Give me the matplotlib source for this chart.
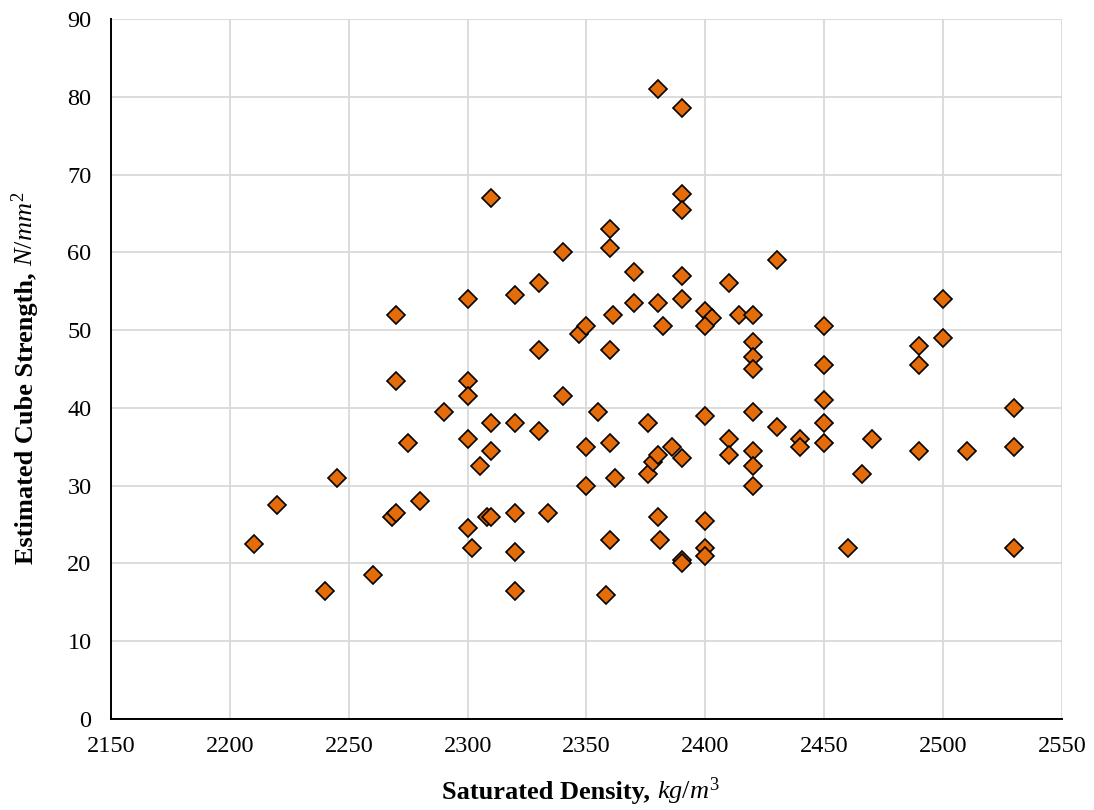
import matplotlib
matplotlib.use("Agg")
import matplotlib.pyplot as plt

density = [2210, 2220, 2240, 2245, 2260, 2268, 2270, 2270, 2270, 2275, 2280, 2290,
           2300, 2300, 2300, 2300, 2300, 2302, 2305, 2308, 2310, 2310, 2310, 2310,
           2320, 2320, 2320, 2320, 2320, 2330, 2330, 2330, 2334, 2340, 2340, 2347,
           2350, 2350, 2350, 2355, 2358, 2360, 2360, 2361, 2360, 2360, 2362, 2360,
           2370, 2370, 2376, 2376, 2378, 2380, 2380, 2380, 2382, 2380, 2381, 2386,
           2390, 2390, 2390, 2390, 2390, 2390, 2390, 2390,
           2400, 2403, 2400, 2400, 2400, 2400, 2400,
           2410, 2410, 2410, 2414, 2420, 2420, 2420, 2420, 2420, 2420, 2420, 2420,
           2430, 2430, 2440, 2440, 2450, 2450, 2450, 2450, 2450, 2460, 2466, 2470,
           2490, 2490, 2490, 2500, 2500, 2510, 2530, 2530, 2530]
strength = [22.5, 27.5, 16.5, 31, 18.5, 26, 26.5, 43.5, 52, 35.5, 28, 39.5,
            54, 43.5, 41.5, 36, 24.5, 22, 32.5, 26, 26, 67, 38, 34.5,
            54.5, 38, 26.5, 21.5, 16.5, 56, 47.5, 37, 26.5, 60, 41.5, 49.5,
            50.5, 35, 30, 39.5, 16, 63, 60.5, 52, 47.5, 35.5, 31, 23,
            57.5, 53.5, 38, 31.5, 33, 34, 81, 53.5, 50.5, 26, 23, 35,
            78.5, 67.5, 65.5, 57, 54, 33.5, 20.5, 20,
            52.5, 51.5, 50.5, 39, 25.5, 22, 21,
            56, 36, 34, 52, 52, 48.5, 46.5, 45, 39.5, 34.5, 32.5, 30,
            59, 37.5, 36, 35, 50.5, 45.5, 41, 38, 35.5, 22, 31.5, 36,
            48, 45.5, 34.5, 54, 49, 34.5, 40, 35, 22]

x_ticks = [2150, 2200, 2250, 2300, 2350, 2400, 2450, 2500, 2550]
y_ticks = [0, 10, 20, 30, 40, 50, 60, 70, 80, 90]

x_label_bold = "Saturated Density, "
x_label_unit = r"$\mathit{kg/m^3}$"
y_label_bold = "Estimated Cube Strength, "
y_label_unit = r"$\mathit{N/mm^2}$"

plt.rcParams['font.family'] = ['Liberation Serif', 'DejaVu Serif']
plt.rcParams['mathtext.fontset'] = 'custom'
plt.rcParams['mathtext.rm'] = 'Liberation Serif'
plt.rcParams['mathtext.it'] = 'Liberation Serif:italic'
plt.rcParams['mathtext.bf'] = 'Liberation Serif:bold'

W, H = 1094, 810
fig = plt.figure(figsize=(W / 100, H / 100), dpi=100)
ax = fig.add_axes([0.1015, 0.1123, 0.8692, 0.8642])

ax.plot(density, strength, linestyle='none', marker='D', markersize=9.3,
        markerfacecolor='#E46C0A', markeredgecolor='black', markeredgewidth=1.2,
        zorder=3)

ax.set_xlim(2150, 2550)
ax.set_ylim(0, 90)
ax.set_xticks(x_ticks)
ax.set_yticks(y_ticks)
ax.grid(True, color='#D9D9D9', linewidth=1.3, zorder=0)
ax.set_axisbelow(True)
for s in ['top', 'right']:
    ax.spines[s].set_visible(False)
for s in ['left', 'bottom']:
    ax.spines[s].set_color('black')
    ax.spines[s].set_linewidth(1.4)
    ax.spines[s].set_zorder(4)
ax.tick_params(axis='both', length=0, labelsize=17.5, colors='black')
ax.tick_params(axis='x', pad=12)
ax.tick_params(axis='y', pad=14)

fs = 19
renderer = fig.canvas.get_renderer()

# x label (bold + italic unit), centred
tb = fig.text(0, 0, x_label_bold, fontsize=fs, fontweight='bold', ha='left', va='baseline')
tu = fig.text(0, 0, x_label_unit, fontsize=fs, ha='left', va='baseline')
wb = tb.get_window_extent(renderer).width
wu = tu.get_window_extent(renderer).width
cx = 581.0
x0 = cx - (wb + wu) / 2
base_y = (H - 799) / H
tb.set_position((x0 / W, base_y))
tu.set_position(((x0 + wb) / W, base_y))

# y label (rotated)
yb = fig.text(0, 0, y_label_bold, fontsize=fs, fontweight='bold', rotation=90,
              rotation_mode='anchor', ha='left', va='baseline')
yu = fig.text(0, 0, y_label_unit, fontsize=fs, rotation=90,
              rotation_mode='anchor', ha='left', va='baseline')
hb = yb.get_window_extent(renderer).height
hu = yu.get_window_extent(renderer).height
cy = H - 377.5
y0 = cy - (hb + hu) / 2
base_x = 33 / W
yb.set_position((base_x, y0 / H))
yu.set_position((base_x, (y0 + hb) / H))

fig.savefig('out.png', dpi=100)
